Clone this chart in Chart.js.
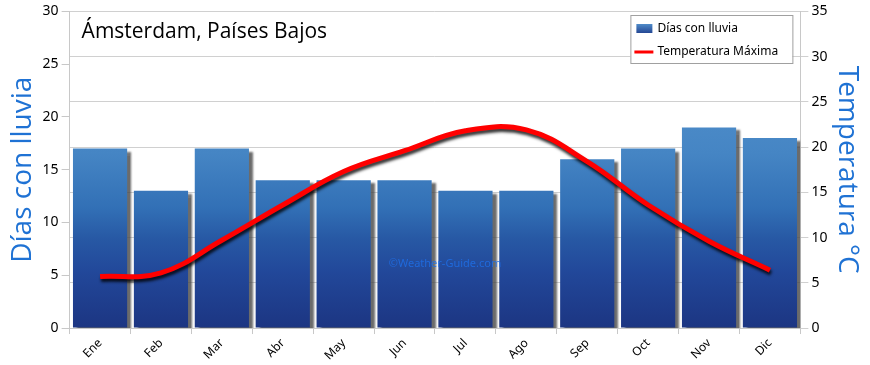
<!DOCTYPE html>
<html>
<head>
<meta charset="utf-8">
<script src="https://cdn.jsdelivr.net/npm/chart.js@4.4.0/dist/chart.umd.min.js"></script>
<style>
  html, body { margin: 0; padding: 0; background: #ffffff; }
  #wrap { width: 870px; height: 365px; }
</style>
</head>
<body>
<div id="wrap"><canvas id="chart"></canvas></div>
<script>
// Ámsterdam: días de lluvia y temperatura máxima por mes
const meses = ['Ene', 'Feb', 'Mar', 'Abr', 'May', 'Jun', 'Jul', 'Ago', 'Sep', 'Oct', 'Nov', 'Dic'];
const diasLluvia = [17, 13, 17, 14, 14, 14, 13, 13, 16, 17, 19, 18];
const tempMaxima = [5.7, 6.1, 9.7, 13.6, 17.3, 19.6, 21.8, 21.9, 18.4, 13.6, 9.6, 6.4];
const ticksLluvia = [0, 5, 10, 15, 20, 25, 30];
const ticksTemp = [0, 5, 10, 15, 20, 25, 30, 35];

const titulo = 'Ámsterdam, Países Bajos';
const marcaAgua = '©Weather-Guide.com';
const azulTitulo = '#1f72d4';

// degradado de las barras, fijado al área del gráfico
function degradadoBarras(context) {
    const chart = context.chart;
    const area = chart.chartArea;
    if (!area) return '#2a5ca8';
    const g = chart.ctx.createLinearGradient(0, area.top, 0, area.bottom);
    g.addColorStop(0, '#5c9ad2');
    g.addColorStop(0.45, '#4585c4');
    g.addColorStop(0.62, '#3270b6');
    g.addColorStop(0.72, '#2758a4');
    g.addColorStop(0.82, '#22489a');
    g.addColorStop(1, '#1c3582');
    return g;
}

// sombras de barras y línea
const sombras = {
    id: 'sombras',
    beforeDatasetDraw(chart, args) {
        const ctx = chart.ctx;
        ctx.save();
        if (args.index === 0) {
            ctx.shadowColor = 'rgba(70,70,70,0.8)';
            ctx.shadowOffsetX = 4;
            ctx.shadowOffsetY = 3;
            ctx.shadowBlur = 2;
        } else {
            ctx.shadowColor = 'rgba(0,0,0,0.8)';
            ctx.shadowOffsetX = 1;
            ctx.shadowOffsetY = 3;
            ctx.shadowBlur = 3;
        }
    },
    afterDatasetDraw(chart, args) {
        const ctx = chart.ctx;
        ctx.restore();
        if (args.index === 0) {
            // marca de agua sobre las barras
            const area = chart.chartArea;
            ctx.save();
            ctx.font = '11px "Noto Sans"';
            ctx.fillStyle = 'rgba(30,110,230,0.85)';
            ctx.textAlign = 'center';
            ctx.textBaseline = 'middle';
            ctx.fillText(marcaAgua, (area.left + area.right) / 2 + 10, area.bottom - 64);
            ctx.restore();
        }
    }
};

// título interior y leyenda con recuadro
const decoracion = {
    id: 'decoracion',
    afterDraw(chart) {
        const ctx = chart.ctx;
        const area = chart.chartArea;
        ctx.save();
        ctx.fillStyle = '#000';
        ctx.font = '21px "Open Sans"';
        ctx.textBaseline = 'middle';
        ctx.fillText(titulo, area.left + 12, 32);

        // leyenda
        const x = area.right - 170, y = 15, w = 162, h = 48;
        ctx.fillStyle = '#fff';
        ctx.fillRect(x, y, w, h);
        ctx.strokeStyle = '#a0a0a0';
        ctx.lineWidth = 1;
        ctx.strokeRect(x + 0.5, y + 0.5, w, h);
        const g = ctx.createLinearGradient(0, y + 9, 0, y + 19);
        g.addColorStop(0, '#4f8bc8');
        g.addColorStop(1, '#1f3f8e');
        ctx.fillStyle = g;
        ctx.fillRect(x + 6, y + 9, 16, 9);
        ctx.strokeStyle = '#ff0000';
        ctx.lineWidth = 3;
        ctx.beginPath();
        ctx.moveTo(x + 4, y + 37);
        ctx.lineTo(x + 23, y + 37);
        ctx.stroke();
        ctx.fillStyle = '#000';
        ctx.font = '12px "Noto Sans"';
        ctx.fillText(chart.data.datasets[0].label, x + 27, y + 14);
        ctx.fillText(chart.data.datasets[1].label, x + 27, y + 37);
        ctx.restore();
    }
};

const fuenteTicks = { family: 'Noto Sans', size: 14 };

new Chart(document.getElementById('chart'), {
    data: {
        labels: meses,
        datasets: [
            {
                type: 'bar',
                label: 'Días con lluvia',
                data: diasLluvia,
                yAxisID: 'y',
                backgroundColor: degradadoBarras,
                borderWidth: 0,
                barPercentage: 0.89,
                categoryPercentage: 1.0,
                order: 2
            },
            {
                type: 'line',
                label: 'Temperatura Máxima',
                data: tempMaxima,
                yAxisID: 'y1',
                borderColor: '#ff0000',
                borderWidth: 5,
                pointRadius: 0,
                tension: 0.4,
                fill: false,
                order: 1
            }
        ]
    },
    options: {
        responsive: true,
        maintainAspectRatio: false,
        animation: false,
        layout: { padding: { left: 6, right: 6, top: 4, bottom: 0 } },
        plugins: {
            legend: { display: false },
            tooltip: { enabled: false },
            title: { display: false }
        },
        scales: {
            x: {
                offset: true,
                grid: {
                    display: true,
                    offset: true,
                    drawOnChartArea: false,
                    drawTicks: true,
                    tickLength: 6,
                    color: '#c8c8c8'
                },
                border: { color: '#c8c8c8' },
                ticks: {
                    color: '#000',
                    font: { family: 'Noto Sans', size: 12 },
                    maxRotation: 45,
                    minRotation: 45,
                    padding: 2
                }
            },
            y: {
                position: 'left',
                min: 0,
                max: 30,
                afterBuildTicks(scale) {
                    scale.ticks = ticksLluvia.map(v => ({ value: v }));
                },
                grid: {
                    drawOnChartArea: false,
                    drawTicks: true,
                    tickLength: 8,
                    color: '#c8c8c8'
                },
                border: { color: '#c8c8c8' },
                ticks: { color: '#000', font: fuenteTicks, padding: 3 },
                title: {
                    display: true,
                    text: 'Días con lluvia',
                    color: azulTitulo,
                    font: { family: 'Open Sans', size: 28 },
                    padding: { top: 0, bottom: 0 }
                }
            },
            y1: {
                position: 'right',
                min: 0,
                max: 35,
                afterBuildTicks(scale) {
                    scale.ticks = ticksTemp.map(v => ({ value: v }));
                },
                grid: {
                    drawOnChartArea: true,
                    drawTicks: true,
                    tickLength: 8,
                    color: '#d0d0d0'
                },
                border: { color: '#c8c8c8' },
                ticks: { color: '#000', font: fuenteTicks, padding: 3 },
                title: {
                    display: true,
                    text: 'Temperatura °C',
                    color: azulTitulo,
                    font: { family: 'Open Sans', size: 28 },
                    padding: { top: 0, bottom: 0 }
                }
            }
        }
    },
    plugins: [sombras, decoracion]
});
</script>
</body>
</html>
